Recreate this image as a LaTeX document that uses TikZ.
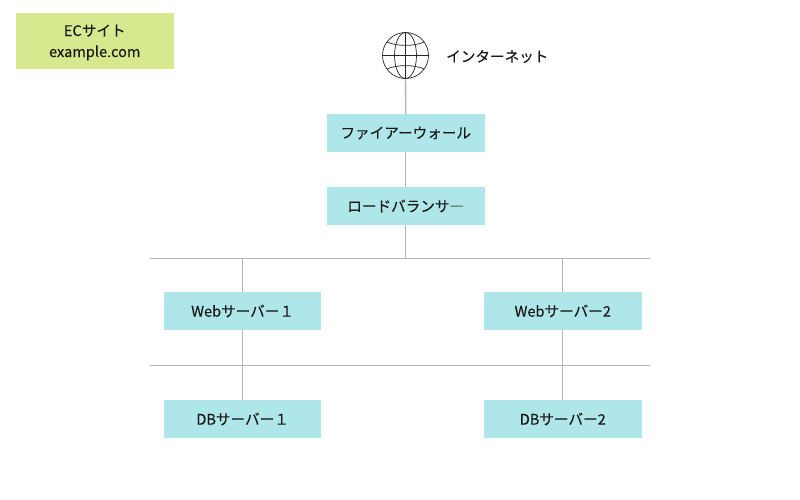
\documentclass[tikz,border=0pt]{standalone}
\usepackage{fontspec}
\setmainfont{Noto Sans CJK JP}[FakeBold=0.25]
\definecolor{boxblue}{HTML}{AFE6E9}
\definecolor{boxgreen}{HTML}{D7E98F}
\definecolor{conn}{HTML}{B4B4B4}
\tikzset{
  x=1pt,y=-1pt,
  serverbox/.style={fill=boxblue,minimum width=157.5pt,minimum height=38pt,inner sep=0pt,font=\fontsize{14.6}{18}\selectfont,text=black!90},
  sitebox/.style={fill=boxgreen,minimum width=157.5pt,minimum height=56pt,inner sep=0pt},
  sitetext/.style={inner sep=0pt,align=center,font=\fontsize{14.6}{21}\selectfont,text=black!90},
  conline/.style={draw=conn,line width=1.3pt},
  globeline/.style={draw=black!85,line width=0.7pt},
}
\begin{document}
\begin{tikzpicture}
\useasboundingbox (0,0) rectangle (800,500);
\node[sitebox] (site) at (94.75,41) {};
\node[sitetext] (sitelabel) at (94.75,42.5) {ECサイト\\example.com};
\node[circle,minimum size=46pt,inner sep=0pt] (globe) at (405.5,55.5) {};
\node[anchor=west,inner sep=0pt,font=\fontsize{14.6}{18}\selectfont,text=black!90] (inet) at (446,56.5) {インターネット};
\node[serverbox] (fw) at (405.75,133) {\raisebox{-1pt}{ファイアーウォール}};
\node[serverbox] (lb) at (405.75,206) {\raisebox{-1pt}{ロードバランサ―}};
\node[serverbox] (web1) at (242.6,311) {\raisebox{-1pt}{Webサーバー１}};
\node[serverbox] (web2) at (562.75,311) {\raisebox{-1pt}{Webサーバー2}};
\node[serverbox] (db1) at (242.6,419) {\raisebox{-1pt}{DBサーバー１}};
\node[serverbox] (db2) at (562.75,419) {\raisebox{-1pt}{DBサーバー2}};
\coordinate (busL) at (150,258.8);
\coordinate (busR) at (650,258.8);
\coordinate (busC) at (405.75,258.8);
\coordinate (busW1) at (242.6,258.8);
\coordinate (busW2) at (562.75,258.8);
\coordinate (dbL) at (150,365.8);
\coordinate (dbR) at (650,365.8);
\draw[conline] (globe) -- (fw);
\draw[conline] (fw) -- (lb);
\draw[conline] (lb) -- (busC);
\draw[conline] (busL) -- (busR);
\draw[conline] (busW1) -- (web1);
\draw[conline] (busW2) -- (web2);
\draw[conline] (dbL) -- (dbR);
\draw[conline] (web1) -- (db1);
\draw[conline] (web2) -- (db2);
\begin{scope}[shift={(405.5,55.5)}]
\draw[globeline] (0,0) circle[radius=23];
\draw[globeline] (0,-23) -- (0,23);
\draw[globeline] (-23,0) -- (23,0);
\draw[globeline] (0,0) ellipse[x radius=11,y radius=23];
\draw[globeline] (-18.5,-13.5) .. controls (-9,-9) and (9,-9) .. (18.5,-13.5);
\draw[globeline] (-18.5,13.5) .. controls (-9,9) and (9,9) .. (18.5,13.5);
\end{scope}
\end{tikzpicture}
\end{document}
